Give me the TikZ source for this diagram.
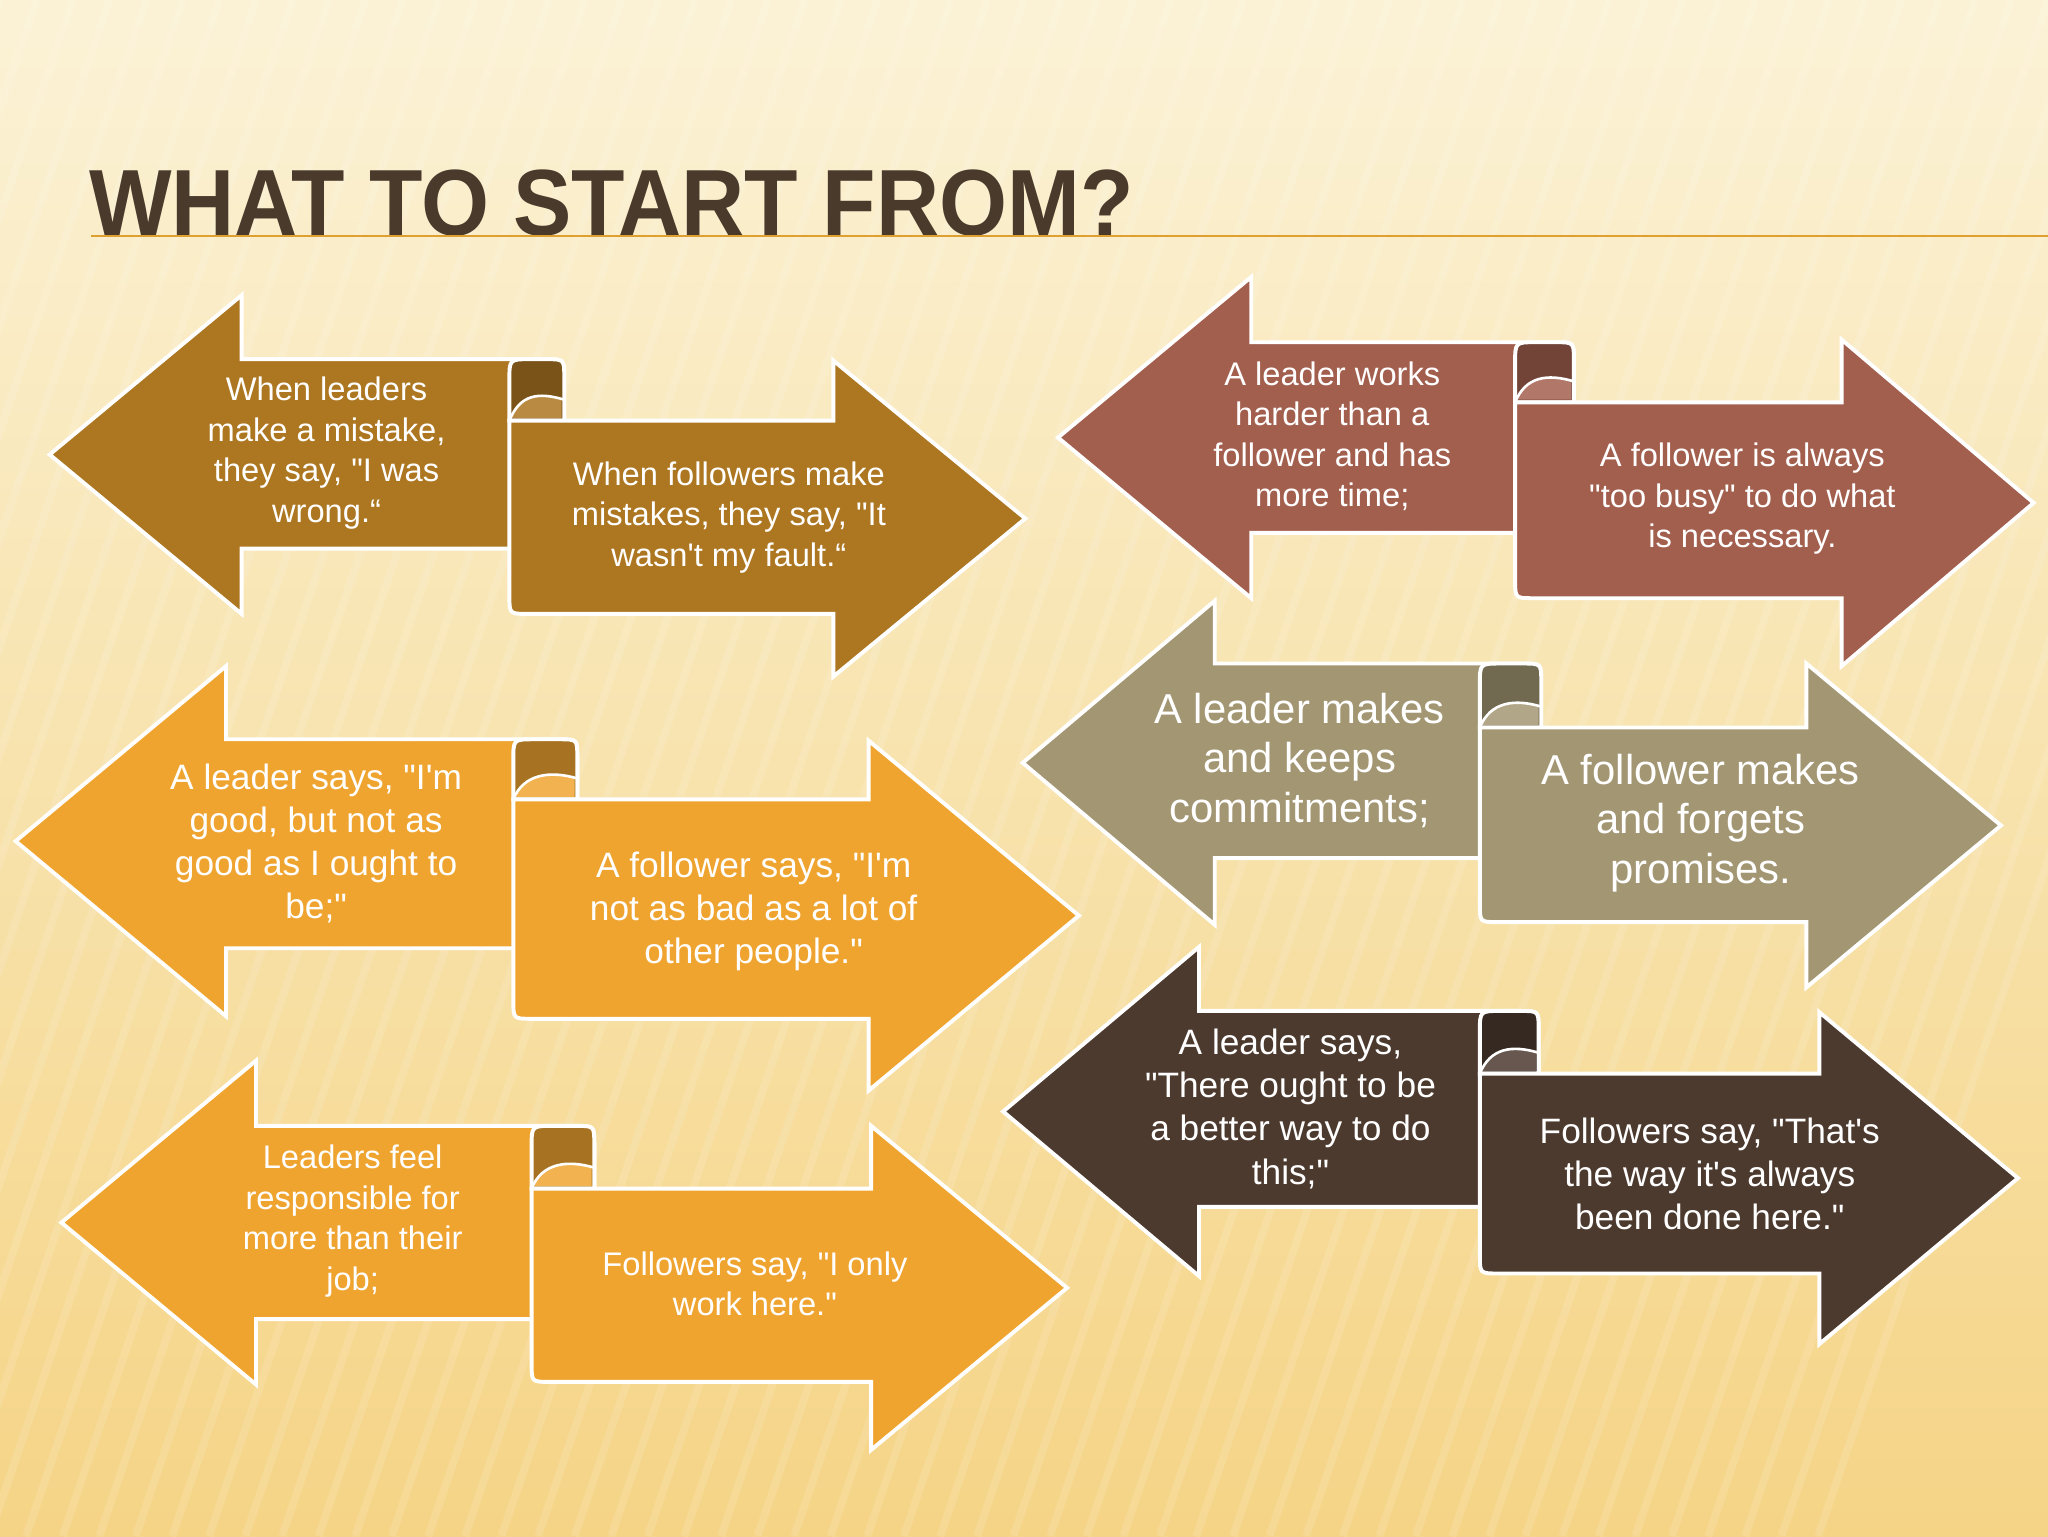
\documentclass[tikz,border=0pt]{standalone}
\usepackage{fontspec}
\setmainfont{Liberation Sans}[Ligatures=TeXOff]
\usetikzlibrary{shadings}
\definecolor{bgtop}{HTML}{FBF2D6}
\definecolor{bgbot}{HTML}{F5D486}
\definecolor{ttl}{HTML}{4A3A2C}
\definecolor{rule}{HTML}{E0A030}
\definecolor{cgold}{HTML}{AD7621}
\definecolor{cred}{HTML}{A35F4E}
\definecolor{corange}{HTML}{EFA430}
\definecolor{ckhaki}{HTML}{A39673}
\definecolor{cdark}{HTML}{4D3A2F}
\tikzset{arr/.style={draw=white,line width=3pt,line join=miter},
  txt/.style={text=white,align=center,font=\fontsize{25}{31}\selectfont}}
% color tip yc xh hh top bot xr
\newcommand\larr[8]{\fill[#1,arr] (#2,#3) -- (#4,#3-#5) -- (#4,#6) -- (#8-14,#6) .. controls (#8,#6) .. (#8,#6+14) -- (#8,#7) -- (#4,#7) -- (#4,#3+#5) -- cycle;}
% color xl top bot xh yc hh tip
\newcommand\rarr[8]{\fill[#1,arr] (#2,#3) -- (#5,#3) -- (#5,#6-#7) -- (#8,#6) -- (#5,#6+#7) -- (#5,#4) -- (#2+14,#4) .. controls (#2,#4) .. (#2,#4-14) -- cycle;}
% color xl xr top1 top2
\newcommand\rcurl[5]{\fill[#1!70!black,arr] (#2,#5) -- (#2,#4+16) .. controls (#2,#4) .. (#2+16,#4) -- (#3-14,#4) .. controls (#3,#4) .. (#3,#4+14) -- (#3,#5) -- cycle;
 \fill[#1!85!white] (#2+2,#5-2) .. controls (#2+8,#5-20) and (#3-20,#5-22) .. (#3-2,#5-16) -- (#3-2,#5-2) -- cycle;
 \draw[white,line width=2pt] (#2,#5) .. controls (#2+8,#5-20) and (#3-20,#5-22) .. (#3,#5-16);}
\begin{document}
\begin{tikzpicture}[x=1pt,y=-1pt]
\shade[top color=bgtop,bottom color=bgbot] (0,0) rectangle (1568,1176);
\useasboundingbox (0,0) rectangle (1568,1176);
\foreach \i in {0,28,...,1800} {\draw[white,opacity=0.12,line width=6pt] (\i-400,1176) -- (\i,0);}
\node[anchor=base west,inner sep=0,text=ttl,font=\bfseries\fontsize{72}{72}\selectfont,xscale=0.93] (title) at (68,180) {WHAT TO START FROM?};
\draw[rule,line width=1.5pt] (70,181) -- (1568,181);
% pair 1
\larr{cgold}{38}{348}{185}{122}{275}{420}{432}
\rcurl{cgold}{390}{432}{275}{322}
\rarr{cgold}{390}{322}{470}{638}{397}{121}{785}
\node[txt] (a1) at (250,347) {When leaders\\make a mistake,\\they say, "I was\\wrong.“};
\node[txt] (b1) at (558,396) {When followers make\\mistakes, they say, "It\\wasn't my fault.“};
% pair 2
\larr{cred}{810}{335}{958}{123}{262}{408}{1205}
\rcurl{cred}{1160}{1205}{262}{308}
\rarr{cred}{1160}{308}{458}{1410}{385}{125}{1557}
\node[txt] (a2) at (1020,334) {A leader works\\harder than a\\follower and has\\more time;};
\node[txt] (b2) at (1334,382) {A follower is always\\"too busy" to do what\\is necessary.};
% pair 3
\larr{corange}{12}{644}{173}{134}{566}{726}{442}
\rcurl{corange}{393}{442}{566}{612}
\rarr{corange}{393}{612}{780}{665}{701}{134}{826}
\node[txt,font=\fontsize{27}{33}\selectfont] (a3) at (242,646) {A leader says, "I'm\\good, but not as\\good as I ought to\\be;"};
\node[txt,font=\fontsize{27}{33}\selectfont] (b3) at (577,698) {A follower says, "I'm\\not as bad as a lot of\\other people."};
% pair 4
\larr{ckhaki}{783}{584}{930}{124}{508}{657}{1180}
\rcurl{ckhaki}{1133}{1180}{508}{557}
\rarr{ckhaki}{1133}{557}{706}{1383}{632}{124}{1532}
\node[txt,font=\fontsize{32}{38}\selectfont] (a4) at (995,582) {A leader makes\\and keeps\\commitments;};
\node[txt,font=\fontsize{32}{38}\selectfont] (b4) at (1302,630) {A follower makes\\and forgets\\promises.};
% pair 5
\larr{corange}{47}{936}{196}{124}{862}{1010}{455}
\rcurl{corange}{407}{455}{862}{910}
\rarr{corange}{407}{910}{1058}{667}{986}{124}{817}
\node[txt] (a5) at (270,935) {Leaders feel\\responsible for\\more than their\\job;};
\node[txt] (b5) at (578,983) {Followers say, "I only\\work here."};
% pair 6
\larr{cdark}{768}{851}{918}{126}{774}{924}{1178}
\rcurl{cdark}{1133}{1178}{774}{822}
\rarr{cdark}{1133}{822}{975}{1393}{902}{127}{1545}
\node[txt,font=\fontsize{27}{33}\selectfont] (a6) at (988,849) {A leader says,\\"There ought to be\\a better way to do\\this;"};
\node[txt,font=\fontsize{27}{33}\selectfont] (b6) at (1309,899) {Followers say, "That's\\the way it's always\\been done here."};
\end{tikzpicture}
\end{document}
